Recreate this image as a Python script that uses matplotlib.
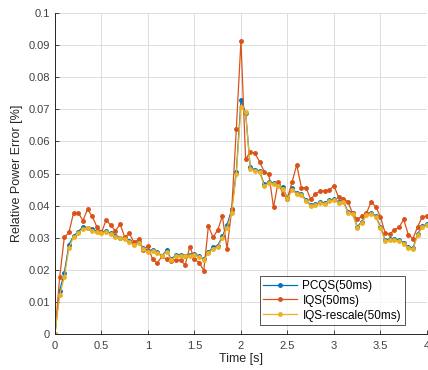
import numpy as np
import matplotlib
matplotlib.use("Agg")
import matplotlib.pyplot as plt

plt.rcParams['font.family'] = ['Liberation Sans', 'DejaVu Sans']

time_s = np.round(np.arange(0, 81) * 0.05, 2)

pcqs = [0, 1.34, 1.90, 2.78, 3.05, 3.19, 3.33, 3.31, 3.26, 3.20,
        3.16, 3.20, 3.13, 3.06, 3.00, 3.00, 2.90, 2.79, 2.87, 2.68,
        2.59, 2.62, 2.54, 2.44, 2.60, 2.33, 2.46, 2.46, 2.44, 2.46,
        2.50, 2.42, 2.33, 2.55, 2.70, 2.75, 3.04, 3.39, 3.88, 5.06,
        7.29, 6.90, 5.19, 5.12, 5.08, 4.66, 4.74, 4.69, 4.64, 4.57,
        4.22, 4.54, 4.38, 4.36, 4.17, 4.02, 4.04, 4.10, 4.09, 4.17,
        4.19, 4.12, 4.15, 3.81, 3.78, 3.34, 3.50, 3.74, 3.78, 3.67,
        3.34, 2.92, 2.95, 2.95, 2.93, 2.84, 2.70, 2.67, 3.12, 3.36,
        3.41]

iqs = [0, 1.76, 3.01, 3.16, 3.78, 3.78, 3.53, 3.88, 3.67, 3.34,
       3.16, 3.55, 3.38, 3.21, 3.42, 3.02, 3.13, 2.85, 2.95, 2.60,
       2.73, 2.32, 2.20, 2.42, 2.33, 2.28, 2.30, 2.30, 2.15, 2.72,
       2.33, 2.22, 1.97, 3.36, 3.01, 3.24, 3.67, 2.65, 3.86, 6.38,
       9.15, 5.44, 5.68, 5.63, 5.37, 5.06, 4.98, 3.94, 4.74, 4.36,
       4.24, 4.74, 5.27, 4.56, 4.56, 4.19, 4.36, 4.45, 4.47, 4.48,
       4.62, 4.26, 4.22, 4.12, 3.76, 3.57, 3.67, 3.76, 4.12, 3.96,
       3.65, 3.15, 3.10, 3.25, 3.32, 3.57, 3.09, 2.97, 3.34, 3.65,
       3.68]

iqs_rescale = [0, 1.21, 1.76, 2.68, 3.02, 3.14, 3.28, 3.30, 3.22, 3.17,
               3.13, 3.17, 3.10, 3.03, 2.98, 2.97, 2.87, 2.76, 2.84, 2.65,
               2.56, 2.58, 2.51, 2.42, 2.56, 2.31, 2.43, 2.43, 2.42, 2.43,
               2.47, 2.39, 2.30, 2.52, 2.66, 2.70, 2.99, 3.30, 3.78, 4.99,
               7.08, 6.92, 5.15, 5.09, 5.05, 4.62, 4.70, 4.66, 4.60, 4.53,
               4.19, 4.50, 4.35, 4.33, 4.14, 3.99, 4.01, 4.07, 4.06, 4.14,
               4.16, 4.09, 4.12, 3.78, 3.75, 3.31, 3.47, 3.71, 3.75, 3.64,
               3.31, 2.89, 2.92, 2.92, 2.90, 2.81, 2.67, 2.64, 3.08, 3.33,
               3.38]

pcqs = np.array(pcqs) / 100
iqs = np.array(iqs) / 100
iqs_rescale = np.array(iqs_rescale) / 100

fig = plt.figure(figsize=(4.28, 3.70), dpi=100)
ax = fig.add_axes([0.1285, 0.098, 0.869, 0.866])

ax.plot(time_s, pcqs, '.-', color='#0072BD', lw=0.9, ms=5, label='PCQS(50ms)')
ax.plot(time_s, iqs, '.-', color='#D95319', lw=0.9, ms=5, label='IQS(50ms)')
ax.plot(time_s, iqs_rescale, '.-', color='#EDB120', lw=0.9, ms=5, label='IQS-rescale(50ms)')

ax.set_xlim(0, 4)
ax.set_ylim(0, 0.1)
ax.set_xticks([0, 0.5, 1, 1.5, 2, 2.5, 3, 3.5, 4])
ax.set_xticklabels(['0', '0.5', '1', '1.5', '2', '2.5', '3', '3.5', '4'])
ax.set_yticks(np.arange(0, 0.101, 0.01))
ax.set_yticklabels(['0', '0.01', '0.02', '0.03', '0.04', '0.05', '0.06',
                    '0.07', '0.08', '0.09', '0.1'])
ax.grid(True, color='#dcdcdc', lw=0.7)
ax.set_axisbelow(True)
for s in ['top', 'right']:
    ax.spines[s].set_visible(False)
for s in ['left', 'bottom']:
    ax.spines[s].set_color('#262626')
    ax.spines[s].set_linewidth(0.7)
ax.tick_params(direction='in', length=3, width=0.6, colors='#262626',
               labelsize=8, labelcolor='#404040')
ax.tick_params(axis='x', pad=5)
ax.set_xlabel('Time [s]', fontsize=9, color='#262626', labelpad=2)
ax.set_ylabel('Relative Power Error [%]', fontsize=9, color='#262626', labelpad=4)

leg = ax.legend(loc='lower right', bbox_to_anchor=(0.94, 0.027), fontsize=8.5,
                frameon=True, fancybox=False, edgecolor='#262626',
                handlelength=2.8, borderpad=0.3, labelspacing=0.25,
                handletextpad=0.5, borderaxespad=0)
leg.get_frame().set_linewidth(0.7)

fig.savefig('out.png', dpi=100)
